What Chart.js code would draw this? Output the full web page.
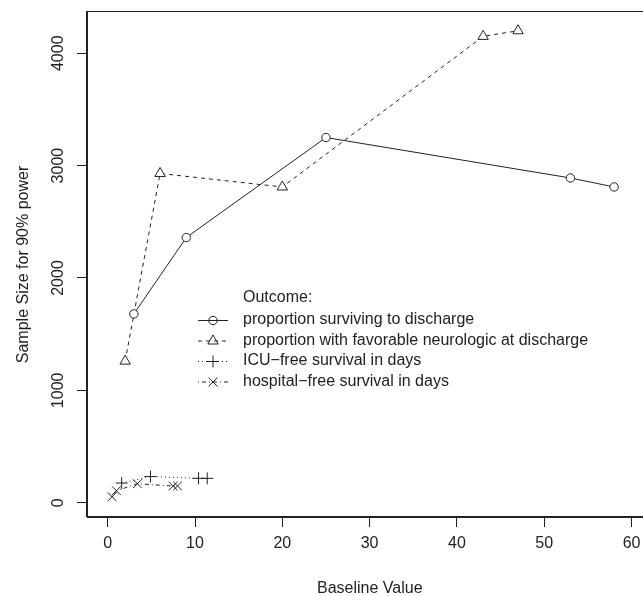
<!DOCTYPE html>
<html lang="en">
<head>
    <meta charset="UTF-8">
    <title>Sample size vs baseline value</title>
    <script src="https://cdn.jsdelivr.net/npm/chart.js"></script>
    <style>
        body { margin: 0; overflow: hidden; background: #fff; }
    </style>
</head>
<body>
    <canvas id="myChart" width="660" height="596"></canvas>
    <script>
        // values
        const survX = [3, 9, 25, 53, 58];
        const survY = [1680, 2360, 3250, 2890, 2810];
        const neuroX = [2, 6, 20, 43, 47];
        const neuroY = [1260, 2930, 2810, 4150, 4200];
        const icuX = [1.6, 4.9, 10.4, 11.4];
        const icuY = [175, 233, 217, 217];
        const hospX = [0.5, 1.0, 3.4, 7.5, 8.0];
        const hospY = [53, 107, 169, 149, 149];

        const seriesLabels = [
            'proportion surviving to discharge',
            'proportion with favorable neurologic at discharge',
            'ICU\u2212free survival in days',
            'hospital\u2212free survival in days'
        ];
        const xTicks = [0, 10, 20, 30, 40, 50, 60];
        const yTicks = [0, 1000, 2000, 3000, 4000];

        const ink = '#222';
        const font = { family: '"Liberation Sans", Arial, sans-serif', size: 16 };

        function pts(xs, ys) {
            return xs.map((x, i) => ({ x: x, y: ys[i] }));
        }

        function series(i, xs, ys, style, radius, dash, fill) {
            return {
                label: seriesLabels[i],
                data: pts(xs, ys),
                showLine: true,
                borderColor: ink,
                borderWidth: 1,
                borderDash: dash,
                pointStyle: style,
                pointRadius: radius,
                pointBorderColor: ink,
                pointBorderWidth: 1,
                pointBackgroundColor: fill
            };
        }

        // box round the plot and the R-style legend
        const boxAndLegend = {
            id: 'boxAndLegend',
            afterDraw(chart) {
                const ctx = chart.ctx;
                const a = chart.chartArea;
                ctx.save();
                ctx.strokeStyle = ink;
                ctx.lineWidth = 1;
                ctx.strokeRect(a.left - 0.5, a.top - 0.5, a.right - a.left, a.bottom - a.top);

                const symX = a.left + 111;
                const textX = a.left + 156;
                let y = a.top + 286;
                ctx.font = '16px "Liberation Sans", Arial, sans-serif';
                ctx.textBaseline = 'middle';
                ctx.fillStyle = ink;
                ctx.fillText('Outcome:', textX, y);
                y += 22;
                chart.data.datasets.forEach(ds => {
                    ctx.setLineDash(ds.borderDash || []);
                    ctx.beginPath();
                    ctx.moveTo(symX, y + 0.5);
                    ctx.lineTo(symX + 30, y + 0.5);
                    ctx.stroke();
                    ctx.setLineDash([]);
                    ctx.fillStyle = 'rgba(0,0,0,0)';
                    Chart.helpers.drawPoint(ctx, {
                        pointStyle: ds.pointStyle,
                        radius: ds.pointRadius,
                        rotation: 0,
                        borderWidth: 1
                    }, symX + 15, y + 0.5);
                    ctx.fillStyle = ink;
                    ctx.fillText(ds.label, textX, y);
                    y += 20.5;
                });
                ctx.restore();
            }
        };

        const ctx = document.getElementById('myChart').getContext('2d');
        const myChart = new Chart(ctx, {
            type: 'scatter',
            data: {
                datasets: [
                    series(0, survX, survY, 'circle', 4.2, [], '#fff'),
                    series(1, neuroX, neuroY, 'triangle', 6, [4, 4], '#fff'),
                    series(2, icuX, icuY, 'cross', 6, [1, 3], 'rgba(0,0,0,0)'),
                    series(3, hospX, hospY, 'crossRot', 6.2, [1, 3, 4, 3], 'rgba(0,0,0,0)')
                ]
            },
            options: {
                responsive: false,
                animation: false,
                layout: { padding: { left: 0, top: 12, right: 7.5, bottom: 0 } },
                plugins: {
                    legend: { display: false },
                    tooltip: { enabled: false }
                },
                scales: {
                    x: {
                        type: 'linear',
                        min: -2.37,
                        max: 62.4,
                        afterBuildTicks: s => { s.ticks = xTicks.map(v => ({ value: v })); },
                        afterFit: s => { s.height = 79; },
                        grid: { drawOnChartArea: false, tickLength: 10, color: ink },
                        border: { display: true, color: ink },
                        ticks: { color: ink, font: font, padding: 7, maxRotation: 0, callback: v => String(v) },
                        title: {
                            display: true,
                            text: 'Baseline Value',
                            color: ink,
                            font: Object.assign({ lineHeight: 1 }, font),
                            padding: { top: 0, bottom: -1 }
                        }
                    },
                    y: {
                        type: 'linear',
                        min: -127,
                        max: 4367,
                        afterBuildTicks: s => { s.ticks = yTicks.map(v => ({ value: v })); },
                        afterFit: s => { s.width = 87; },
                        grid: { drawOnChartArea: false, tickLength: 10, color: ink },
                        border: { display: true, color: ink },
                        ticks: { color: ink, font: font, padding: 1, minRotation: 90, maxRotation: 90, crossAlign: 'center', callback: v => String(v) },
                        title: {
                            display: true,
                            text: 'Sample Size for 90% power',
                            color: ink,
                            font: Object.assign({ lineHeight: 1 }, font),
                            padding: { top: 16, bottom: 0 }
                        }
                    }
                }
            },
            plugins: [boxAndLegend]
        });
    </script>
</body>
</html>
